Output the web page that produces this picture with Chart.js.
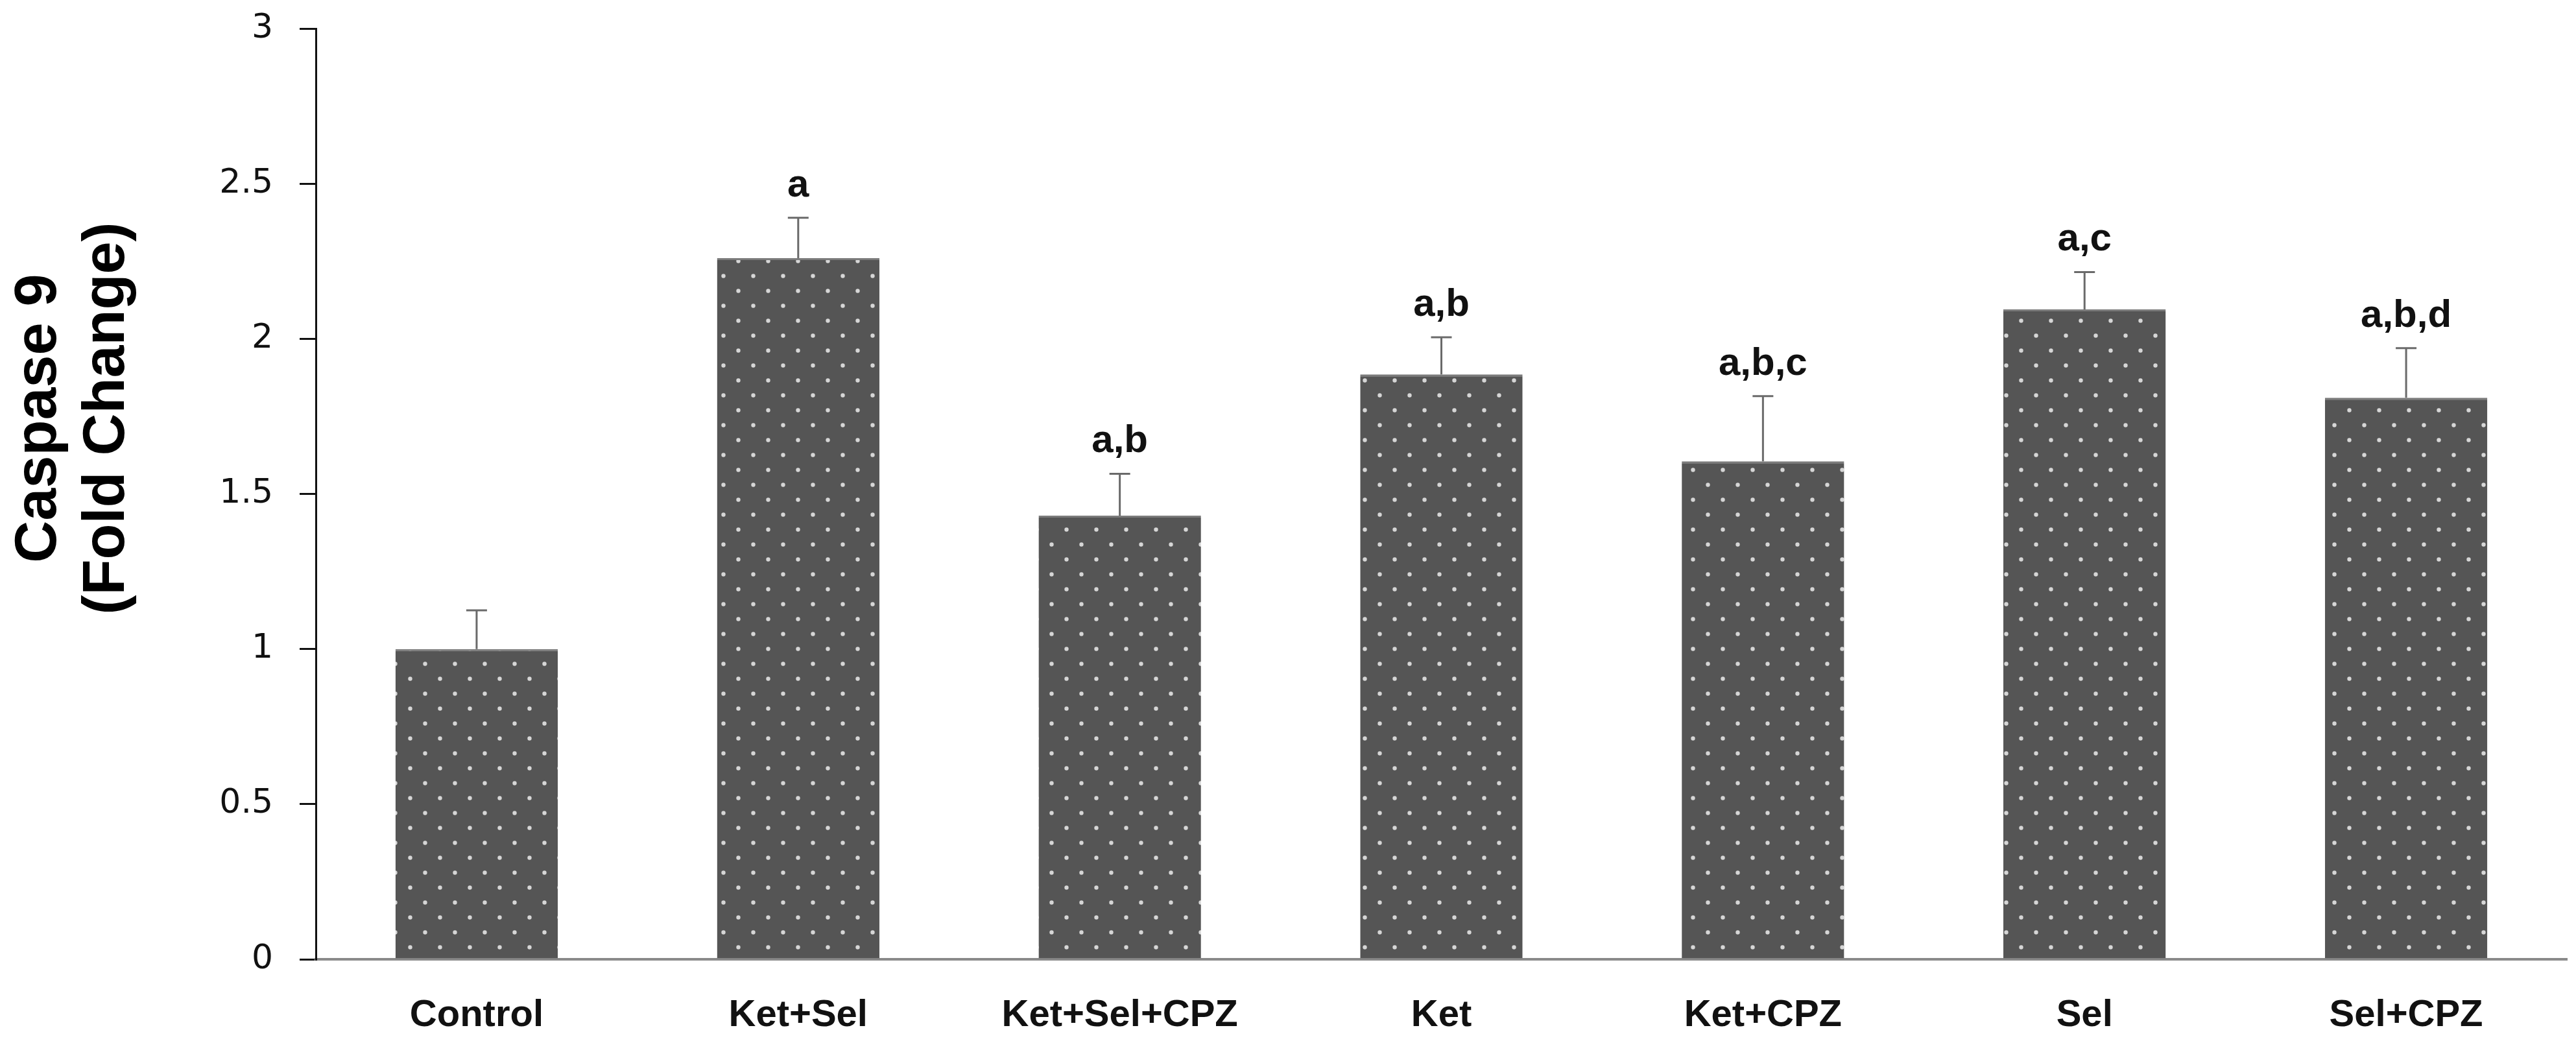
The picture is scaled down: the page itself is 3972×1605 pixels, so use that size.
<!DOCTYPE html>
<html>
<head>
<meta charset="utf-8">
<script src="https://cdn.jsdelivr.net/npm/chart.js@4/dist/chart.umd.min.js"></script>
<style>
  html, body { margin: 0; padding: 0; background: #fff; }
  #wrap { width: 3972px; height: 1605px; position: relative; }
</style>
</head>
<body>
<div id="wrap"><canvas id="myChart"></canvas></div>
<script>
// values
const categories = ['Control', 'Ket+Sel', 'Ket+Sel+CPZ', 'Ket', 'Ket+CPZ', 'Sel', 'Sel+CPZ'];
const means = [1.00, 2.26, 1.43, 1.885, 1.605, 2.095, 1.81];
const errors = [0.125, 0.13, 0.135, 0.12, 0.21, 0.12, 0.16];
const letters = ['', 'a', 'a,b', 'a,b', 'a,b,c', 'a,c', 'a,b,d'];
const yTicks = [0, 0.5, 1, 1.5, 2, 2.5, 3];
const yTitle = ['Caspase 9', '(Fold Change)'];

// dotted fill like the original bars
function dotPattern(){
    let c = document.createElement('canvas');
    c.width = 46;
    c.height = 46;
    let p = c.getContext('2d');
    p.fillStyle = '#555555';
    p.fillRect(0, 0, 46, 46);
    p.fillStyle = '#d6d6d6';
    p.beginPath();
    p.arc(11.5, 11.5, 3.2, 0, Math.PI * 2);
    p.arc(34.5, 34.5, 3.2, 0, Math.PI * 2);
    p.fill();
    return p.createPattern(c, 'repeat');
}

let ctx = document.getElementById('myChart').getContext('2d');

// error bars (upper only) and the letters above them
const errorBars = {
    id: 'errorBars',
    afterDatasetsDraw(chart){
        let c = chart.ctx;
        let y = chart.scales.y;
        let meta = chart.getDatasetMeta(0);
        c.save();
        meta.data.forEach((bar, i) => {
            let top = y.getPixelForValue(means[i] + errors[i]);
            let base = y.getPixelForValue(means[i]);
            c.strokeStyle = '#6a6a6a';
            c.lineWidth = 3;
            c.beginPath();
            c.moveTo(bar.x, base);
            c.lineTo(bar.x, top);
            c.moveTo(bar.x - 16, top);
            c.lineTo(bar.x + 16, top);
            c.stroke();
            if(letters[i]){
                c.fillStyle = '#111';
                c.font = 'bold 60px "Liberation Sans", Arial, sans-serif';
                c.textAlign = 'center';
                c.textBaseline = 'alphabetic';
                c.fillText(letters[i], bar.x, top - 33);
            }
        });
        c.restore();
    }
};

// two-line rotated y title
const yTitlePlugin = {
    id: 'yTitlePlugin',
    afterDraw(chart){
        let c = chart.ctx;
        c.save();
        c.translate(0, 645);
        c.rotate(-Math.PI / 2);
        c.fillStyle = '#000';
        c.font = 'bold 90px "Liberation Sans", Arial, sans-serif';
        c.textAlign = 'center';
        c.textBaseline = 'alphabetic';
        c.fillText(yTitle[0], 0, 86);
        c.fillText(yTitle[1], 0, 191);
        c.restore();
    }
};

let myChart = new Chart(ctx, {
    type: 'bar',
    data: {
        labels: categories,
        datasets: [{
            data: means,
            backgroundColor: dotPattern(),
            borderColor: '#7b7b7b',
            borderWidth: {top: 3, left: 0, right: 0, bottom: 0},
            borderSkipped: false,
            barPercentage: 0.505,
            categoryPercentage: 1.0
        }]
    },
    options: {
        responsive: true,
        maintainAspectRatio: false,
        animation: false,
        layout: {
            padding: {top: 44, right: 14, left: 0, bottom: 0}
        },
        plugins: {
            legend: {display: false},
            tooltip: {enabled: false}
        },
        scales: {
            x: {
                grid: {display: false, drawTicks: false},
                border: {display: true, color: '#8a8a8a', width: 4},
                ticks: {
                    color: '#111',
                    padding: 52,
                    font: {family: '"Liberation Sans", Arial, sans-serif', size: 58, weight: 'bold'}
                },
                afterFit(scale){
                    scale.height = 126;
                    scale.paddingLeft = 0;
                    scale.paddingRight = 0;
                }
            },
            y: {
                min: 0,
                max: 3,
                afterBuildTicks(scale){
                    scale.ticks = yTicks.map(v => ({value: v}));
                },
                grid: {
                    drawOnChartArea: false,
                    drawTicks: true,
                    tickLength: 25,
                    color: '#111',
                    lineWidth: 3
                },
                border: {display: true, color: '#111', width: 3},
                ticks: {
                    color: '#111',
                    padding: 41,
                    font: {family: '"DejaVu Sans", Verdana, sans-serif', size: 52},
                    callback: v => String(v)
                },
                afterFit(scale){
                    scale.width = 487;
                    scale.paddingTop = 0;
                    scale.paddingBottom = 0;
                }
            }
        }
    },
    plugins: [errorBars, yTitlePlugin]
});
</script>
</body>
</html>
